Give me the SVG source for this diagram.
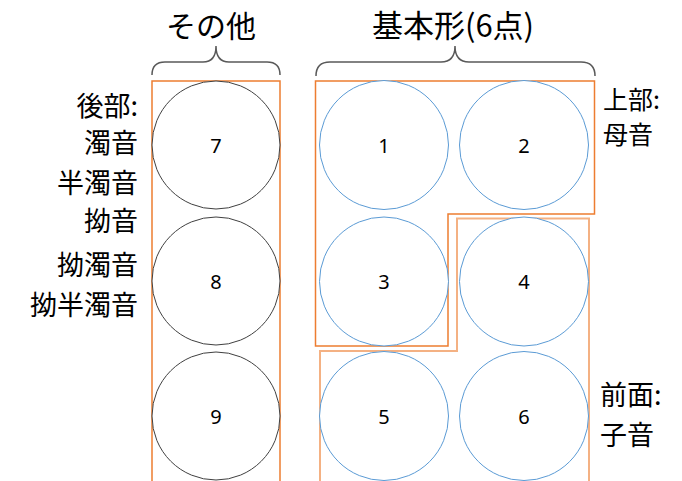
<svg xmlns="http://www.w3.org/2000/svg" width="682" height="481" viewBox="0 0 682 481">
<style>
.lbl{font-family:"Noto Sans CJK JP","Noto Sans",sans-serif;font-size:27px;fill:#000}
.ttl{font-family:"Noto Sans CJK JP","Noto Sans",sans-serif;font-size:30px;fill:#000;text-anchor:middle}
.num{font-family:"Noto Sans","Liberation Sans",sans-serif;font-size:20px;fill:#000;text-anchor:middle;dominant-baseline:central}
.cb{fill:#fff;stroke:#404040;stroke-width:1}
.cl{fill:#fff;stroke:#5b9bd5;stroke-width:1}
.brace{fill:none;stroke:#595959;stroke-width:1.5}
.or{fill:none;stroke:#ed7d31;stroke-width:1.5}
.or2{fill:none;stroke:#f4b183;stroke-width:2}
</style>
<rect width="682" height="481" fill="#fff"/>
<g id="titles">
<text class="ttl" x="211" y="37">その他</text>
<text class="ttl" x="453" y="37" style="font-size:31px">基本形(6点)</text>
</g>
<g id="braces">
<path class="brace" d="M152,75 Q152,62 165,62 L203,62 Q216,62 216,46 Q216,62 229,62 L267,62 Q280,62 280,75"/>
<path class="brace" d="M316,76 Q316,62 330,62 L441,62 Q455,62 455,46 Q455,62 469,62 L581,62 Q595,62 595,76"/>
</g>
<g id="outlines">
<path class="or" d="M152,490 L152,81 L280,81 L280,490"/>
<path class="or" d="M315.5,81 L594.5,81 L594.5,214 L448,214 L448,346 L315.5,346 Z"/>
<path class="or2" d="M320,490 L320,351 L457,351 L457,218.5 L589,218.5 L589,490"/>
</g>
<g id="n7"><circle class="cb" cx="216" cy="145" r="64"/><text class="num" x="216" y="145">7</text></g>
<g id="n8"><circle class="cb" cx="216" cy="281" r="64"/><text class="num" x="216" y="281">8</text></g>
<g id="n9"><circle class="cb" cx="216" cy="416" r="64"/><text class="num" x="216" y="416">9</text></g>
<g id="n1"><circle class="cl" cx="384" cy="145" r="64.5"/><text class="num" x="384" y="145">1</text></g>
<g id="n2"><circle class="cl" cx="524" cy="145" r="64.5"/><text class="num" x="524" y="145">2</text></g>
<g id="n3"><circle class="cl" cx="384" cy="281.5" r="64.5"/><text class="num" x="384" y="281.5">3</text></g>
<g id="n4"><circle class="cl" cx="524" cy="281.5" r="64.5"/><text class="num" x="524" y="281.5">4</text></g>
<g id="n5"><circle class="cl" cx="384" cy="416" r="64.5"/><text class="num" x="384" y="416">5</text></g>
<g id="n6"><circle class="cl" cx="524" cy="416" r="64.5"/><text class="num" x="524" y="416">6</text></g>
<g id="left-labels">
<text class="lbl" text-anchor="end"><tspan x="138" y="116">後部:</tspan><tspan x="138" y="153">濁音</tspan><tspan x="138" y="193">半濁音</tspan><tspan x="138" y="231">拗音</tspan><tspan x="138" y="275">拗濁音</tspan><tspan x="138" y="315">拗半濁音</tspan></text>
</g>
<g id="right-labels">
<text class="lbl" style="font-size:25px"><tspan x="603" y="109">上部:</tspan><tspan x="603" y="144">母音</tspan></text>
<text class="lbl"><tspan x="600" y="405">前面:</tspan><tspan x="600" y="445">子音</tspan></text>
</g>
</svg>
